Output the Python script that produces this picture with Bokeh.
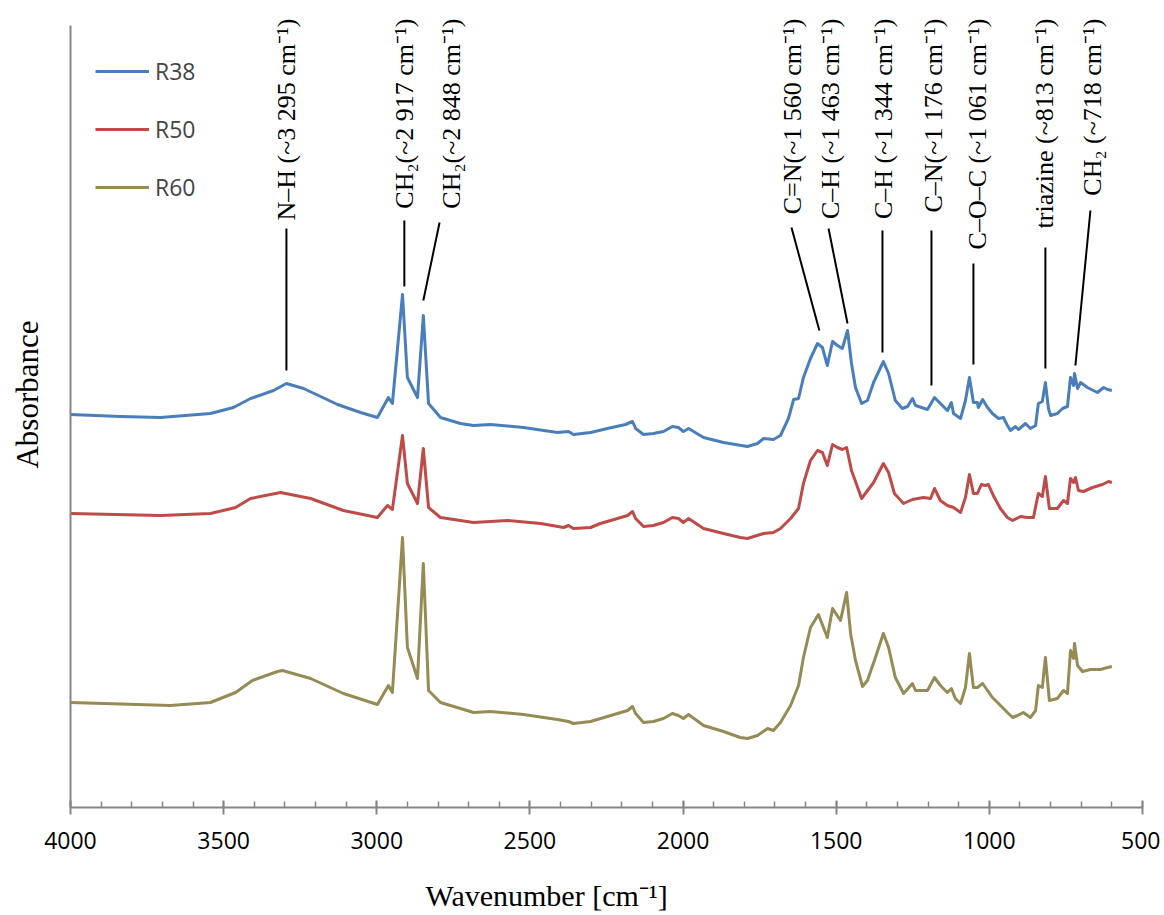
import math
from bokeh.plotting import figure
from bokeh.models import (ColumnDataSource, Range1d, SingleIntervalTicker, FixedTicker,
                          Legend, LegendItem, LabelSet, Label)
from bokeh.core.properties import value
from bokeh.embed import file_html
from bokeh.resources import INLINE

# ---------------- data (wavenumber in cm-1, absorbance in a.u., stacked) ----------------
wn_r38 = [4000, 3837, 3706, 3543, 3468, 3412, 3337, 3295, 3239, 3128, 3053, 2998, 2962, 2949,
          2916, 2900, 2867, 2848, 2831, 2792, 2727, 2684, 2629, 2521, 2410, 2374, 2358, 2302,
          2247, 2188, 2165, 2155, 2129, 2097, 2064, 2035, 2015, 1999, 1982, 1933, 1868, 1790,
          1757, 1737, 1705, 1682, 1656, 1639, 1623, 1607, 1584, 1561, 1545, 1529, 1512, 1496,
          1480, 1463, 1450, 1437, 1417, 1398, 1378, 1346, 1329, 1307, 1284, 1267, 1251, 1241,
          1202, 1179, 1160, 1137, 1124, 1117, 1094, 1078, 1065, 1052, 1039, 1036, 1022, 1006,
          990, 970, 954, 941, 931, 915, 905, 882, 866, 849, 840, 827, 817, 807, 800, 778, 761,
          745, 735, 725, 722, 712, 702, 680, 647, 627, 614, 600]
abs_r38 = [0.794, 0.790, 0.788, 0.796, 0.808, 0.826, 0.842, 0.856, 0.846, 0.814, 0.798, 0.788,
           0.828, 0.816, 1.034, 0.868, 0.828, 0.992, 0.816, 0.788, 0.776, 0.772, 0.774, 0.768,
           0.758, 0.760, 0.754, 0.758, 0.766, 0.774, 0.780, 0.766, 0.754, 0.756, 0.760, 0.770,
           0.768, 0.760, 0.766, 0.748, 0.738, 0.730, 0.736, 0.746, 0.744, 0.752, 0.786, 0.824,
           0.826, 0.868, 0.906, 0.936, 0.928, 0.892, 0.940, 0.932, 0.926, 0.962, 0.896, 0.848,
           0.816, 0.822, 0.858, 0.900, 0.876, 0.822, 0.806, 0.810, 0.826, 0.812, 0.804, 0.828,
           0.816, 0.802, 0.818, 0.796, 0.786, 0.822, 0.868, 0.818, 0.818, 0.808, 0.824, 0.808,
           0.796, 0.786, 0.788, 0.772, 0.762, 0.770, 0.764, 0.776, 0.766, 0.772, 0.816, 0.820,
           0.858, 0.806, 0.792, 0.796, 0.806, 0.810, 0.868, 0.852, 0.876, 0.846, 0.858, 0.848,
           0.838, 0.848, 0.844, 0.842]

wn_r50 = [4000, 3706, 3543, 3461, 3412, 3314, 3216, 3109, 2998, 2965, 2949, 2916, 2900, 2867,
          2848, 2831, 2792, 2727, 2684, 2573, 2465, 2390, 2374, 2358, 2302, 2270, 2181, 2165,
          2155, 2129, 2097, 2064, 2035, 2015, 1999, 1982, 1933, 1868, 1813, 1790, 1737, 1705,
          1682, 1649, 1623, 1607, 1584, 1561, 1545, 1529, 1512, 1496, 1480, 1466, 1450, 1417,
          1378, 1346, 1329, 1310, 1280, 1251, 1215, 1192, 1179, 1160, 1137, 1117, 1094, 1078,
          1065, 1052, 1039, 1026, 1013, 1003, 987, 964, 941, 924, 898, 876, 856, 840, 827, 817,
          804, 778, 758, 745, 735, 725, 719, 709, 693, 663, 631, 611, 600]
abs_r50 = [0.596, 0.592, 0.596, 0.608, 0.626, 0.638, 0.626, 0.602, 0.588, 0.612, 0.604, 0.752,
           0.656, 0.616, 0.726, 0.608, 0.588, 0.582, 0.578, 0.582, 0.576, 0.568, 0.572, 0.566,
           0.568, 0.576, 0.592, 0.600, 0.586, 0.570, 0.572, 0.578, 0.588, 0.586, 0.578, 0.586,
           0.566, 0.556, 0.548, 0.546, 0.556, 0.558, 0.566, 0.586, 0.606, 0.656, 0.702, 0.722,
           0.718, 0.692, 0.734, 0.728, 0.724, 0.728, 0.682, 0.626, 0.658, 0.696, 0.678, 0.636,
           0.616, 0.624, 0.628, 0.626, 0.646, 0.622, 0.612, 0.608, 0.598, 0.628, 0.674, 0.636,
           0.636, 0.654, 0.652, 0.654, 0.632, 0.606, 0.588, 0.582, 0.590, 0.588, 0.588, 0.636,
           0.630, 0.670, 0.606, 0.606, 0.622, 0.616, 0.666, 0.658, 0.668, 0.642, 0.640, 0.648,
           0.654, 0.660, 0.658]

wn_r60 = [4000, 3674, 3543, 3461, 3406, 3324, 3308, 3216, 3109, 2998, 2962, 2949, 2916, 2900,
          2867, 2848, 2831, 2792, 2727, 2684, 2629, 2521, 2410, 2374, 2358, 2302, 2247, 2181,
          2165, 2155, 2129, 2097, 2064, 2035, 2015, 1999, 1982, 1933, 1868, 1813, 1790, 1757,
          1724, 1705, 1682, 1649, 1623, 1607, 1584, 1558, 1529, 1512, 1486, 1466, 1453, 1437,
          1414, 1398, 1372, 1346, 1329, 1307, 1280, 1251, 1241, 1202, 1179, 1160, 1137, 1124,
          1111, 1094, 1078, 1065, 1052, 1039, 1022, 1006, 990, 970, 941, 924, 908, 889, 866,
          849, 840, 827, 817, 804, 778, 758, 745, 735, 725, 722, 712, 696, 670, 637, 614, 600]
abs_r60 = [0.218, 0.212, 0.218, 0.238, 0.262, 0.280, 0.282, 0.266, 0.236, 0.214, 0.252, 0.238,
           0.548, 0.328, 0.266, 0.496, 0.242, 0.218, 0.206, 0.198, 0.200, 0.194, 0.184, 0.180,
           0.176, 0.180, 0.190, 0.202, 0.210, 0.196, 0.178, 0.180, 0.186, 0.196, 0.192, 0.186,
           0.194, 0.172, 0.160, 0.148, 0.146, 0.152, 0.166, 0.162, 0.178, 0.212, 0.252, 0.308,
           0.368, 0.394, 0.348, 0.406, 0.382, 0.438, 0.356, 0.302, 0.250, 0.262, 0.308, 0.356,
           0.328, 0.268, 0.236, 0.256, 0.242, 0.242, 0.268, 0.252, 0.238, 0.246, 0.226, 0.216,
           0.248, 0.316, 0.248, 0.248, 0.256, 0.242, 0.228, 0.216, 0.198, 0.188, 0.192, 0.198,
           0.188, 0.202, 0.252, 0.248, 0.308, 0.222, 0.226, 0.242, 0.236, 0.322, 0.306, 0.336,
           0.292, 0.280, 0.284, 0.284, 0.288, 0.290]

series_names = ["R38", "R50", "R60"]
series_colors = ["#4A7EBB", "#BE4B48", "#958B55"]

# band assignments
ann_labels = ["N\u2013H (~3 295 cm\u207b\u00b9)", "CH\u2082(~2 917 cm\u207b\u00b9)",
              "CH\u2082(~2 848 cm\u207b\u00b9)", "C=N(~1 560 cm\u207b\u00b9)",
              "C\u2013H (~1 463 cm\u207b\u00b9)", "C\u2013H (~1 344 cm\u207b\u00b9)",
              "C\u2013N(~1 176 cm\u207b\u00b9)", "C\u2013O\u2013C (~1 061 cm\u207b\u00b9)",
              "triazine (~813 cm\u207b\u00b9)", "CH\u2082 (~718 cm\u207b\u00b9)"]
ann_text_wn = [3295, 2909, 2756, 1643, 1519, 1346, 1182, 1039, 820, 663]
ann_text_a = [1.586] * 10
lead_top_wn = [3295, 2910, 2795, 1646, 1525, 1349, 1189, 1052, 817, 670]
lead_top_a = [1.166, 1.182, 1.178, 1.168, 1.166, 1.162, 1.162, 1.096, 1.128, 1.202]
lead_end_wn = [3295, 2910, 2848, 1555, 1463, 1349, 1189, 1052, 817, 719]
lead_end_a = [0.882, 1.050, 1.022, 0.962, 0.976, 0.918, 0.852, 0.894, 0.886, 0.892]

x_title = "Wavenumber [cm\u207b\u00b9]"
y_title = "Absorbance"
wn_min, wn_max = 500, 4000      # extent of the wavenumber axis
a_axis, a_top = 0.008, 1.572    # extent of the absorbance axis

# ---------------- figure (frame fills the canvas; axes drawn at fixed locations) ----------------
p = figure(width=1160, height=914, x_range=Range1d(4228.5, 441.2), y_range=Range1d(-0.206, 1.622),
           output_backend="svg", toolbar_location=None,
           min_border_left=0, min_border_right=0, min_border_top=0, min_border_bottom=0)
p.outline_line_color = None
p.xgrid.visible = False
p.ygrid.visible = False
p.background_fill_color = "white"

axis_grey = "#868686"
xa = p.xaxis[0]
xa.fixed_location = a_axis
xa.bounds = (wn_min, wn_max)
xa.ticker = SingleIntervalTicker(interval=500, num_minor_ticks=5)
xa.axis_line_color = axis_grey
xa.axis_line_width = 2
xa.major_tick_line_color = axis_grey
xa.major_tick_line_width = 2
xa.major_tick_in = 7
xa.major_tick_out = 7
xa.minor_tick_line_color = axis_grey
xa.minor_tick_line_width = 1.5
xa.minor_tick_in = 6
xa.minor_tick_out = 0
xa.major_label_text_font = "Open Sans"
xa.major_label_text_font_size = "23px"
xa.major_label_text_color = "black"
xa.major_label_standoff = 17

ya = p.yaxis[0]
ya.fixed_location = wn_max
ya.ticker = FixedTicker(ticks=[])
ya.bounds = (a_axis, a_top)
ya.axis_line_color = axis_grey
ya.axis_line_width = 2
ya.major_tick_out = 0
ya.major_tick_in = 0
ya.minor_tick_out = 0
ya.minor_tick_in = 0
ya.major_label_text_font_size = "0px"

yl = Label(x=4140, y=0.834, text=y_title, angle=math.pi / 2, text_align="center",
           text_baseline="middle", text_font="Liberation Serif", text_font_size="31px",
           text_color="black")
p.add_layout(yl)
xl = Label(x=2841, y=-0.168, text=x_title, text_align="left", text_baseline="middle",
           text_font="Liberation Serif", text_font_size="30px", text_color="black")
p.add_layout(xl)

renderers = []
for wn, ab, col in zip([wn_r38, wn_r50, wn_r60], [abs_r38, abs_r50, abs_r60], series_colors):
    r = p.line(wn, ab, line_color=col, line_width=3, line_join="round")
    renderers.append(r)

legend = Legend(items=[LegendItem(label=n, renderers=[r]) for n, r in zip(series_names, renderers)],
                glyph_width=54, glyph_height=30, label_height=30,
                spacing=26, label_standoff=6, padding=0, margin=0,
                label_text_font="Open Sans", label_text_font_size="23px",
                border_line_color=None, background_fill_alpha=0)
legend.location = (95, 711)
p.add_layout(legend)

lead_src = ColumnDataSource(dict(x0=lead_top_wn, y0=lead_top_a, x1=lead_end_wn, y1=lead_end_a))
p.segment(x0="x0", y0="y0", x1="x1", y1="y1", source=lead_src, line_color="black", line_width=2)

ann_src = ColumnDataSource(dict(x=ann_text_wn, y=ann_text_a, text=ann_labels))
labels = LabelSet(x="x", y="y", text="text", source=ann_src, angle=math.pi / 2,
                  text_align="right", text_baseline="middle",
                  text_font=value("Liberation Serif"), text_font_size=value("26px"),
                  text_color="black")
p.add_layout(labels)

open("out.html", "w").write(file_html(p, INLINE))
